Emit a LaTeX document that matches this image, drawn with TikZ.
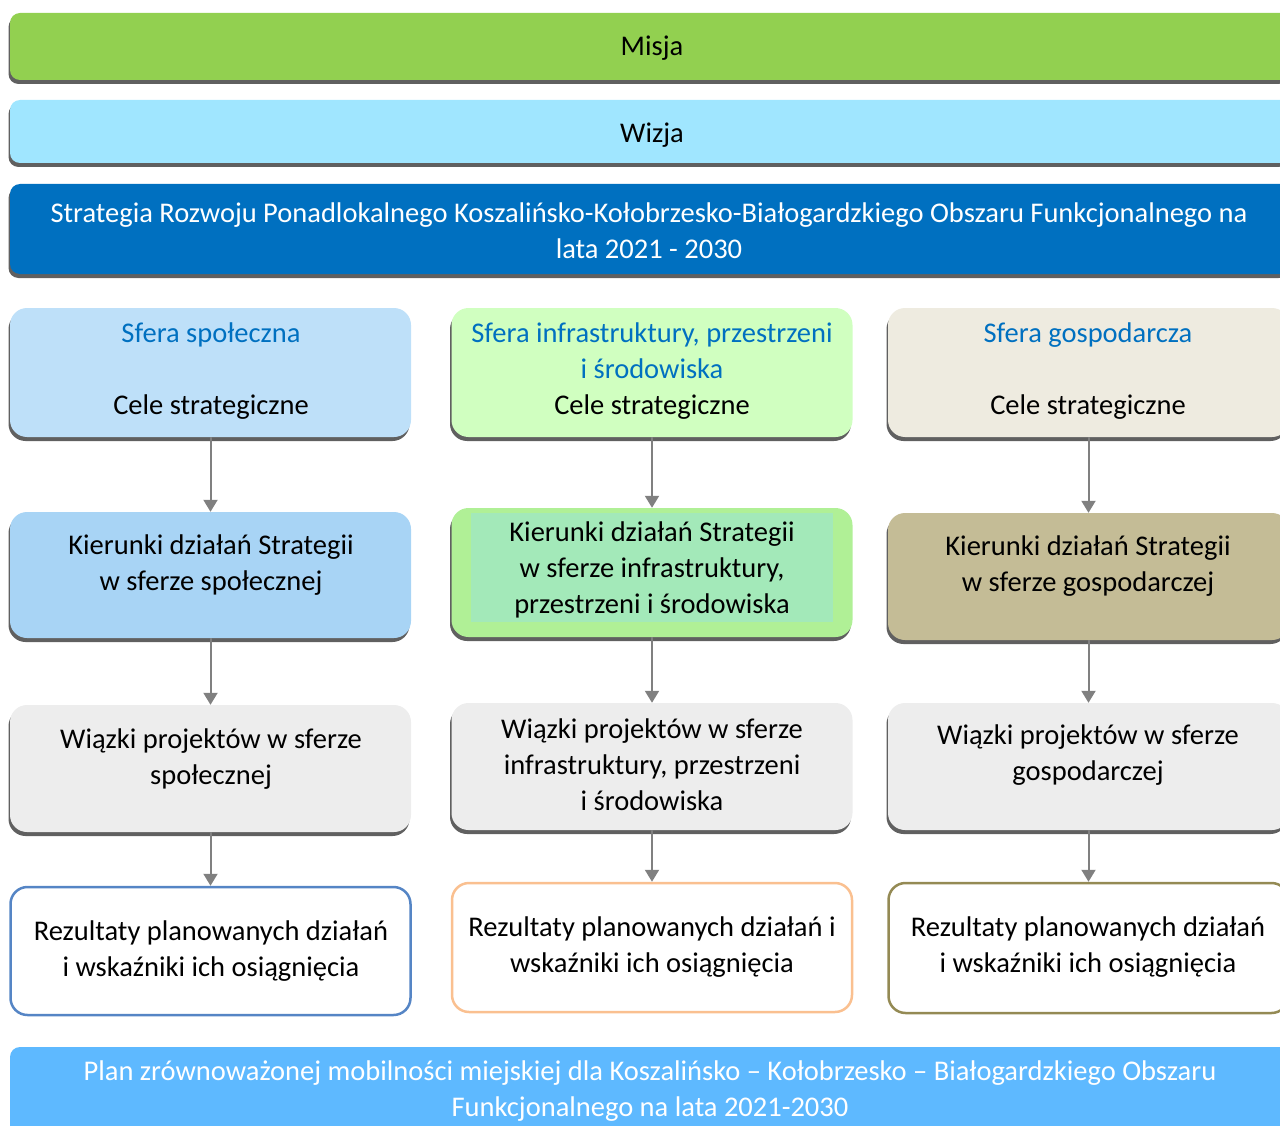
\documentclass[tikz,border=0pt]{standalone}
\usepackage{fontspec}
\setmainfont{Carlito}
\usetikzlibrary{arrows.meta,shadows}

\definecolor{misjagreen}{HTML}{92D050}
\definecolor{wizjacyan}{HTML}{A0E6FF}
\definecolor{stratblue}{HTML}{0070C0}
\definecolor{sferablue}{HTML}{0070C0}
\definecolor{socA}{HTML}{BEE0F9}
\definecolor{socB}{HTML}{A8D4F5}
\definecolor{infA}{HTML}{D0FFC0}
\definecolor{infB}{HTML}{B0F096}
\definecolor{infHL}{HTML}{A3E9B9}
\definecolor{gosA}{HTML}{EEEBE0}
\definecolor{gosB}{HTML}{C4BC96}
\definecolor{projgray}{HTML}{EDEDED}
\definecolor{resblue}{HTML}{5585C5}
\definecolor{resorange}{HTML}{FAC090}
\definecolor{resolive}{HTML}{948A54}
\definecolor{planblue}{HTML}{5EB9FF}
\definecolor{shade}{HTML}{606060}
\definecolor{arrowgray}{HTML}{808080}

\begin{document}
\begin{tikzpicture}[x=1pt,y=-1pt,
  box/.style={rectangle, rounded corners=10pt, inner sep=0pt, draw=none},
  shbox/.style={box, drop shadow={shadow xshift=-1.5pt, shadow yshift=-4pt, fill=shade, opacity=1}},
  colbox/.style={minimum width=401pt, rounded corners=17pt},
  resbox/.style={box, rounded corners=17pt, fill=white, line width=2.5pt, minimum width=400pt},
  txt/.style={font=\fontsize{28.5}{36}\selectfont, align=center, inner sep=0pt},
  conn/.style={draw=arrowgray, line width=2pt, -{Triangle[width=14pt,length=12pt]}}]

\useasboundingbox (0,0) rectangle (1280,1126);
\clip (0,0) rectangle (1280,1126);

% top bars
\node[shbox, fill=misjagreen, minimum width=1280pt, minimum height=67pt] (misja) at (650,46.5) {};
\node[txt] (misjat) at (652,48) {Misja};

\node[shbox, fill=wizjacyan, minimum width=1280pt, minimum height=63pt] (wizja) at (650,131.5) {};
\node[txt] (wizjat) at (652,135) {Wizja};

\node[shbox, fill=stratblue, minimum width=1280pt, minimum height=90pt] (strat) at (650,229) {};
\node[txt, text=white] (stratt) at (649,231) {Strategia Rozwoju Ponadlokalnego Koszalińsko-Kołobrzesko-Białogardzkiego Obszaru Funkcjonalnego na\\ lata 2021 - 2030};

% row 1: spheres and strategic goals
\node[shbox, colbox, fill=socA, minimum height=129pt] (r1a) at (210.5,372.5) {};
\node[shbox, colbox, fill=infA, minimum height=129pt] (r1b) at (652,372.5) {};
\node[shbox, colbox, fill=gosA, minimum height=129pt] (r1c) at (1088.5,372.5) {};
\node[txt] (r1at) at (211,371) {\textcolor{sferablue}{Sfera społeczna}\\[36pt] Cele strategiczne};
\node[txt] (r1bt) at (652,371) {\textcolor{sferablue}{Sfera infrastruktury, przestrzeni}\\ \textcolor{sferablue}{i środowiska}\\ Cele strategiczne};
\node[txt] (r1ct) at (1088,371) {\textcolor{sferablue}{Sfera gospodarcza}\\[36pt] Cele strategiczne};

% row 2: directions of action
\node[shbox, colbox, fill=socB, minimum height=126pt] (r2a) at (210.5,575) {};
\node[shbox, colbox, fill=infB, minimum height=129pt] (r2b) at (652,572.5) {};
\node[shbox, colbox, fill=gosB, minimum height=127pt] (r2c) at (1088.5,576.5) {};
\node[txt] (r2at) at (211,565.5) {Kierunki działań Strategii\\ w sferze społecznej};
\node[fill=infHL, minimum width=362pt, minimum height=109pt, inner sep=0pt] (r2bhl) at (652,567.5) {};
\node[txt] (r2bt) at (652,569.5) {Kierunki działań Strategii\\ w sferze infrastruktury,\\ przestrzeni i środowiska};
\node[txt] (r2ct) at (1088,566) {Kierunki działań Strategii\\ w sferze gospodarczej};

% row 3: project bundles
\node[shbox, colbox, fill=projgray, minimum height=127pt] (r3a) at (210.5,768.5) {};
\node[shbox, colbox, fill=projgray, minimum height=127pt] (r3b) at (652,766.5) {};
\node[shbox, colbox, fill=projgray, minimum height=127pt] (r3c) at (1088.5,766.5) {};
\node[txt] (r3at) at (211,759) {Wiązki projektów w sferze\\ społecznej};
\node[txt] (r3bt) at (652,765) {Wiązki projektów w sferze\\ infrastruktury, przestrzeni\\ i środowiska};
\node[txt] (r3ct) at (1088,755.5) {Wiązki projektów w sferze\\ gospodarczej};

% row 4: results
\node[resbox, draw=resblue, minimum height=128pt] (r4a) at (210.5,951) {};
\node[resbox, draw=resorange, minimum height=129pt] (r4b) at (652,947.5) {};
\node[resbox, draw=resolive, minimum height=130pt] (r4c) at (1088.5,948) {};
\node[txt] (r4at) at (211,951) {Rezultaty planowanych działań\\ i wskaźniki ich osiągnięcia};
\node[txt] (r4bt) at (652,947) {Rezultaty planowanych działań i\\ wskaźniki ich osiągnięcia};
\node[txt] (r4ct) at (1088,947) {Rezultaty planowanych działań\\ i wskaźniki ich osiągnięcia};

% bottom bar
\node[box, fill=planblue, minimum width=1280pt, minimum height=106pt] (plan) at (650,1100) {};
\node[txt, text=white] (plant) at (650,1091) {Plan zrównoważonej mobilności miejskiej dla Koszalińsko – Kołobrzesko – Białogardzkiego Obszaru\\ Funkcjonalnego na lata 2021-2030};

% connectors
\foreach \c in {a,b,c}{
  \draw[conn] (r1\c.south) -- (r2\c.north);
  \draw[conn] (r2\c.south) -- (r3\c.north);
  \draw[conn] (r3\c.south) -- (r4\c.north);
}
\end{tikzpicture}
\end{document}
